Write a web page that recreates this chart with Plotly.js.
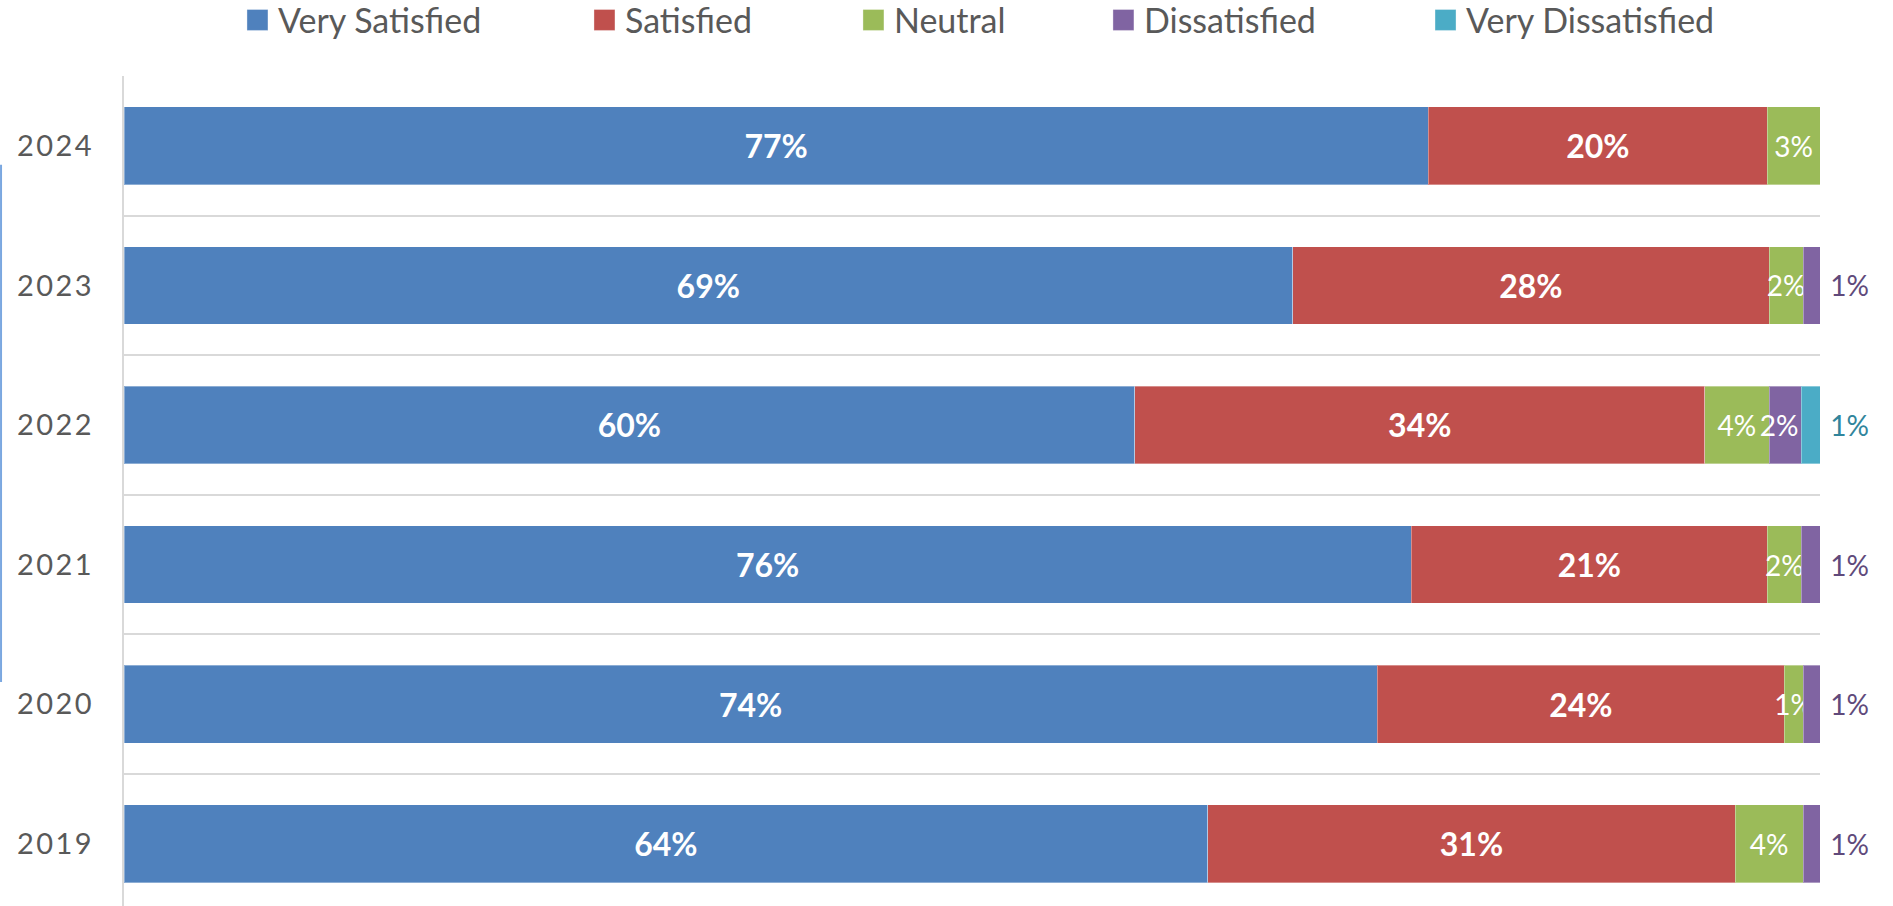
<!DOCTYPE html>
<html>
<head>
<meta charset="utf-8">
<script src="https://cdn.plot.ly/plotly-3.0.1.min.js"></script>
<style>
  html, body { margin: 0; padding: 0; background: #ffffff; }
  #chart { width: 1893px; height: 906px; }
  .ytick text { letter-spacing: 2.5px; }
</style>
</head>
<body>
<div id="chart"></div>
<script>
// ---- data ----
const years = ['2019', '2020', '2021', '2022', '2023', '2024'];
const verySatisfied    = [63.9, 73.9, 75.9, 59.6, 68.9, 76.9];
const satisfied        = [31.1, 24.0, 21.0, 33.6, 28.1, 20.0];
const neutral          = [4.0, 1.1, 2.0, 3.8, 2.0, 3.1];
const dissatisfied     = [1.0, 1.0, 1.1, 1.9, 1.0, null];
const veryDissatisfied = [null, null, null, 1.1, null, null];
const seriesNames = ['Very Satisfied', 'Satisfied', 'Neutral', 'Dissatisfied', 'Very Dissatisfied'];

const FONT = 'Lato, "Open Sans", sans-serif';
const colors = ['#4f81bd', '#c0504d', '#9bbb59', '#8064a2', '#4bacc6'];
const outsideColors = [null, null, null, '#604a7b', '#31859c'];
const values = [verySatisfied, satisfied, neutral, dissatisfied, veryDissatisfied];
const legendIds = ['legend', 'legend2', 'legend3', 'legend4', 'legend5'];

const traces = values.map((vals, i) => {
  const big = i < 2;
  const outside = i >= 3;
  return {
    type: 'bar',
    orientation: 'h',
    name: seriesNames[i],
    y: years,
    x: vals,
    legend: legendIds[i],
    marker: { color: colors[i], line: { color: 'rgba(255,255,255,0.35)', width: 1 } },
    texttemplate: outside ? '\u00a0%{x:.0f}%' : '%{x:.0f}%',
    textposition: outside ? 'outside' : 'inside',
    textangle: 0,
    insidetextanchor: 'middle',
    constraintext: 'none',
    cliponaxis: false,
    insidetextfont: { family: FONT, size: big ? 32 : 28, color: '#ffffff', weight: big ? 'bold' : 'normal' },
    outsidetextfont: { family: FONT, size: 28, color: outsideColors[i] || '#595959' },
    hoverinfo: 'skip'
  };
});

const legendX = [0.0672, 0.2718, 0.4304, 0.5778, 0.7677];
const layout = {
  width: 1893,
  height: 906,
  margin: { l: 124, r: 73, t: 76, b: 0, pad: 0, autoexpand: false },
  paper_bgcolor: '#ffffff',
  plot_bgcolor: '#ffffff',
  barmode: 'stack',
  bargap: 0.443,
  showlegend: true,
  xaxis: {
    range: [0, 100],
    showgrid: false,
    zeroline: false,
    showline: false,
    showticklabels: false,
    ticks: '',
    fixedrange: true
  },
  yaxis: {
    type: 'category',
    categoryorder: 'array',
    categoryarray: years,
    range: [-0.446, 5.5],
    tickson: 'boundaries',
    showgrid: true,
    gridcolor: '#d9d9d9',
    gridwidth: 2,
    showline: true,
    linecolor: '#d9d9d9',
    linewidth: 2,
    zeroline: false,
    ticks: '',
    ticklabelstandoff: 22,
    tickfont: { family: FONT, size: 29, color: '#595959' },
    fixedrange: true
  },
  shapes: [
    { type: 'line', xref: 'paper', yref: 'paper', x0: -0.0725, x1: -0.0725, y0: 0.893, y1: 0.270,
      line: { color: '#7aa7e0', width: 2 } }
  ]
};
legendIds.forEach((id, i) => {
  layout[id] = {
    orientation: 'h',
    x: legendX[i],
    xanchor: 'left',
    yref: 'paper',
    y: 1.102,
    yanchor: 'top',
    bgcolor: 'rgba(0,0,0,0)',
    borderwidth: 0,
    font: { family: FONT, size: 34, color: '#595959' }
  };
});

Plotly.newPlot('chart', traces, layout, { displayModeBar: false, staticPlot: true }).then(gd => {
  // enlarge the legend swatches to the reference's square size
  gd.querySelectorAll('.legendpoints path').forEach(p => {
    p.setAttribute('d', 'M10,10.5H-11V-10.5H10Z');
  });
});
</script>
</body>
</html>
